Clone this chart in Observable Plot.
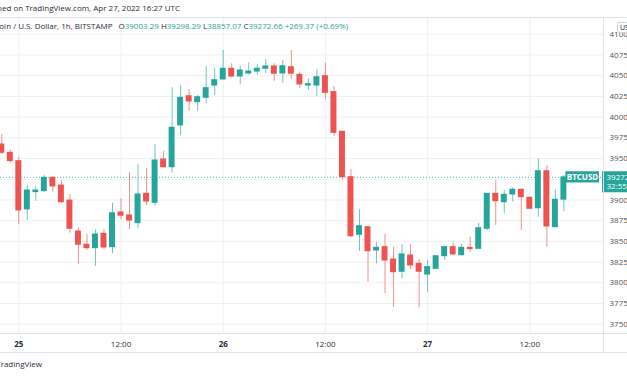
<!DOCTYPE html>
<html>
<head>
<meta charset="utf-8">
<script src="https://cdn.jsdelivr.net/npm/d3@7"></script>
<script src="https://cdn.jsdelivr.net/npm/@observablehq/plot@0.6"></script>
<style>
  html, body { margin: 0; padding: 0; background: #fff; }
  body { width: 627px; height: 376px; overflow: hidden; position: relative; font-family: "Open Sans", sans-serif; color: #131722; }
  .abs { position: absolute; white-space: nowrap; }
  .hl { position: absolute; left: 0; width: 627px; height: 1px; background: #e0e3eb; }
  .vl { position: absolute; width: 1px; background: #e0e3eb; }
  #line1 { top: 2px; right: 447px; font-size: 8px; line-height: 12px; color: #2a2e39; }
  #line2 { top: 20px; right: 279px; font-size: 8px; line-height: 12px; color: #2a2e39; }
  #line2 .v { color: #26a69a; }
  #brand { top: 358px; right: 585px; font-size: 8px; line-height: 12px; color: #2a2e39; }
  #usd { left: 617px; top: 22px; font-size: 7px; line-height: 9px; padding: 0 2px; border: 1px solid #d1d4dc; border-radius: 2px; background: #fff; color: #131722; }
  #chart { position: absolute; left: 0; top: 18px; }
</style>
</head>
<body>
<div class="abs" id="line1"></div>
<div class="hl" style="top:17px"></div>
<div id="chart"></div>
<div class="abs" id="line2"></div>
<div class="hl" style="top:333px"></div>
<div class="hl" style="top:352px"></div>
<div class="vl" style="left:603px; top:18px; height:334px"></div>
<div class="abs" id="usd">USD</div>
<div class="abs" id="brand"></div>
<script>
// ---- data (Bitcoin / U.S. Dollar, 1h, BITSTAMP) ----
const firstHour = "2022-04-24T22:00:00Z";           // first visible hourly candle
const opens  = [39669,39569,39468,38886,39094,39106,39267,39174,38993,38619,38459,38418,38591,38430,38849,38812,38720,39074,38966,39488,39395,
                39899,40252,40180,40233,40381,40454,40583,40490,40526,40550,40583,40611,40526,40602,40510,40381,40381,40494,40301,39823,39275,
                38579,38671,38390,38430,38281,38133,38330,38229,38100,38169,38321,38430,38333,38422,38410,38652,39074,38973,39066,39123,39026,
                38900,39347,38671,39003.29];
const highs  = [39790,39605,39516,39174,39162,39295,39280,39235,39066,38659,38583,38640,38643,38961,39014,39328,39424,39376,39669,39585,40354,
                40381,40333,40261,40611,40583,40804,40643,40614,40655,40635,40695,40643,40683,40804,40542,40462,40574,40650,40369,39823,39368,
                38881,38671,38487,38583,38430,38462,38462,38281,38269,38330,38438,38483,38462,38550,38719,39074,39235,39114,39147,39123,39030,
                39497,39416,39122,39298.29];
const lows   = [39545,39444,38700,38752,38985,39094,39094,38961,38599,38221,38390,38200,38398,38350,38760,38640,38652,38933,38925,39383,39323,
                39778,40071,40071,40161,40261,40454,40470,40390,40506,40506,40523,40433,40409,40450,40342,40321,40252,40209,39769,39243,38543,
                38378,38007,38229,37867,37705,38048,38160,37698,37887,38160,38269,38330,38321,38370,38410,38631,38692,38833,38973,38631,38893,
                38792,38430,38664,38857.07];
const closes = [39569,39468,38873,39114,39114,39267,39163,38973,38652,38459,38418,38583,38426,38840,38809,38752,39066,38981,39476,39395,39871,
                40233,40188,40240,40349,40445,40583,40490,40562,40550,40583,40611,40523,40614,40523,40394,40397,40482,40293,39810,39275,38562,
                38683,38381,38422,38269,38128,38342,38209,38133,38189,38321,38430,38342,38422,38406,38659,39074,38985,39062,39123,39033,38893,
                39347,38680,39002,39272.66];
const changeText = "+269.37 (+0.69%)";
const countdown = "32:55";
const symbolName = "BTCUSD";
const legendTitle = "Bitcoin / U.S. Dollar, 1h, BITSTAMP";
const publishedText = "Published on TradingView.com, Apr 27, 2022 16:27 UTC";
const brandText = "TradingView";
const gridTicks = [37500,37750,38000,38250,38500,38750,39000,39250,39500,39750,40000,40250,40500,40750,41000];
const yLabelTicks = [37500,37750,38000,38250,38500,38750,39000,39500,39750,40000,40250,40500,40750,41000]; // 39250 hidden by price tag
const dayTicks = ["2022-04-25T00:00:00Z","2022-04-26T00:00:00Z","2022-04-27T00:00:00Z"];
const dayLabels = ["25","26","27"];
const noonTicks = ["2022-04-25T12:00:00Z","2022-04-26T12:00:00Z","2022-04-27T12:00:00Z"];
const noonLabels = ["12:00","12:00","12:00"];

const GREEN = "#26a69a", RED = "#ef5350";
const HOUR = 3600e3;
const t0 = new Date(firstHour).getTime();
const candles = opens.map((o, i) => ({
  t: new Date(t0 + i * HOUR), open: o, high: highs[i], low: lows[i], close: closes[i],
  color: closes[i] >= o ? GREEN : RED
}));
const last = candles[candles.length - 1];

const apr25 = new Date(dayTicks[0]).getTime();
const xDomain = [new Date(apr25 - 2.149 * HOUR), new Date(apr25 + 68.65 * HOUR)];
const xEnd = xDomain[1];

// header texts
document.getElementById("line1").textContent = publishedText;
document.getElementById("brand").textContent = brandText;
const f = v => v.toFixed(2);
document.getElementById("line2").innerHTML =
  `${legendTitle}<span style="margin-left:6px">O</span><span class="v">${f(last.open)}</span> H<span class="v">${f(last.high)}</span> L<span class="v">${f(last.low)}</span> C<span class="v">${f(last.close)}</span> <span class="v">${changeText}</span>`;

const dayMap = new Map(dayTicks.map((d, i) => [new Date(d).getTime(), dayLabels[i]]));
const noonMap = new Map(noonTicks.map((d, i) => [new Date(d).getTime(), noonLabels[i]]));
const allX = [...dayTicks, ...noonTicks].map(d => new Date(d));

const chart = Plot.plot({
  width: 627,
  height: 334,
  marginTop: 0,
  marginBottom: 19,
  marginLeft: 0,
  marginRight: 24,
  style: { fontFamily: "Open Sans, sans-serif", fontSize: "8px", overflow: "hidden", background: "transparent" },
  x: { type: "utc", domain: xDomain, label: null },
  y: { domain: [37388, 41190], label: null },
  color: { type: "identity" },
  marks: [
    Plot.gridY(gridTicks, { stroke: "#eef0f4", strokeOpacity: 1 }),
    Plot.gridX(allX, { stroke: "#eef0f4", strokeOpacity: 1 }),
    Plot.axisY(yLabelTicks, { anchor: "right", label: null, tickSize: 0, tickPadding: 6, tickFormat: d => d.toFixed(2), fill: "#50535e", fontSize: 8 }),
    Plot.axisX(dayTicks.map(d => new Date(d)), { anchor: "bottom", label: null, tickSize: 0, tickPadding: 8, tickFormat: d => dayMap.get(d.getTime()), fill: "#2a2e39", fontWeight: "bold", fontSize: 8 }),
    Plot.axisX(noonTicks.map(d => new Date(d)), { anchor: "bottom", label: null, tickSize: 0, tickPadding: 8, tickFormat: d => noonMap.get(d.getTime()), fill: "#2a2e39", fontSize: 8 }),
    Plot.ruleY([last], { y: "close", stroke: GREEN, strokeDasharray: "1 2", strokeOpacity: 0.8 }),
    Plot.ruleX(candles, { x: "t", y1: "low", y2: "high", stroke: "color", strokeOpacity: 0.65 }),
    Plot.rect(candles, {
      x1: d => new Date(d.t.getTime() - 21 * 60e3), x2: d => new Date(d.t.getTime() + 21 * 60e3),
      y1: "open", y2: "close", fill: "color", insetTop: -0.5, insetBottom: -0.5
    }),
    // symbol label on the price line
    Plot.rect([last], { x1: "t", x2: () => xEnd, y1: "close", y2: "close", fill: GREEN, insetLeft: 2, insetRight: 4, insetTop: -5.6, insetBottom: -5.6 }),
    Plot.text([last], { x: () => xEnd, y: "close", text: () => symbolName, dx: -21, fill: "white", fontSize: 8, fontWeight: "bold" }),
    // price axis label
    Plot.rect([last], { x1: () => xEnd, x2: () => xEnd, y1: "close", y2: "close", fill: GREEN, insetLeft: -1, insetRight: -24, insetTop: -5.6, insetBottom: -15.4 }),
    Plot.text([last], { x: () => xEnd, y: "close", text: d => d.close.toFixed(2), dx: 3, textAnchor: "start", fill: "white", fontSize: 8 }),
    Plot.text([last], { x: () => xEnd, y: "close", text: () => countdown, dx: 3, dy: 9, textAnchor: "start", fill: "white", fontSize: 8 })
  ]
});
document.getElementById("chart").append(chart);
</script>
</body>
</html>
